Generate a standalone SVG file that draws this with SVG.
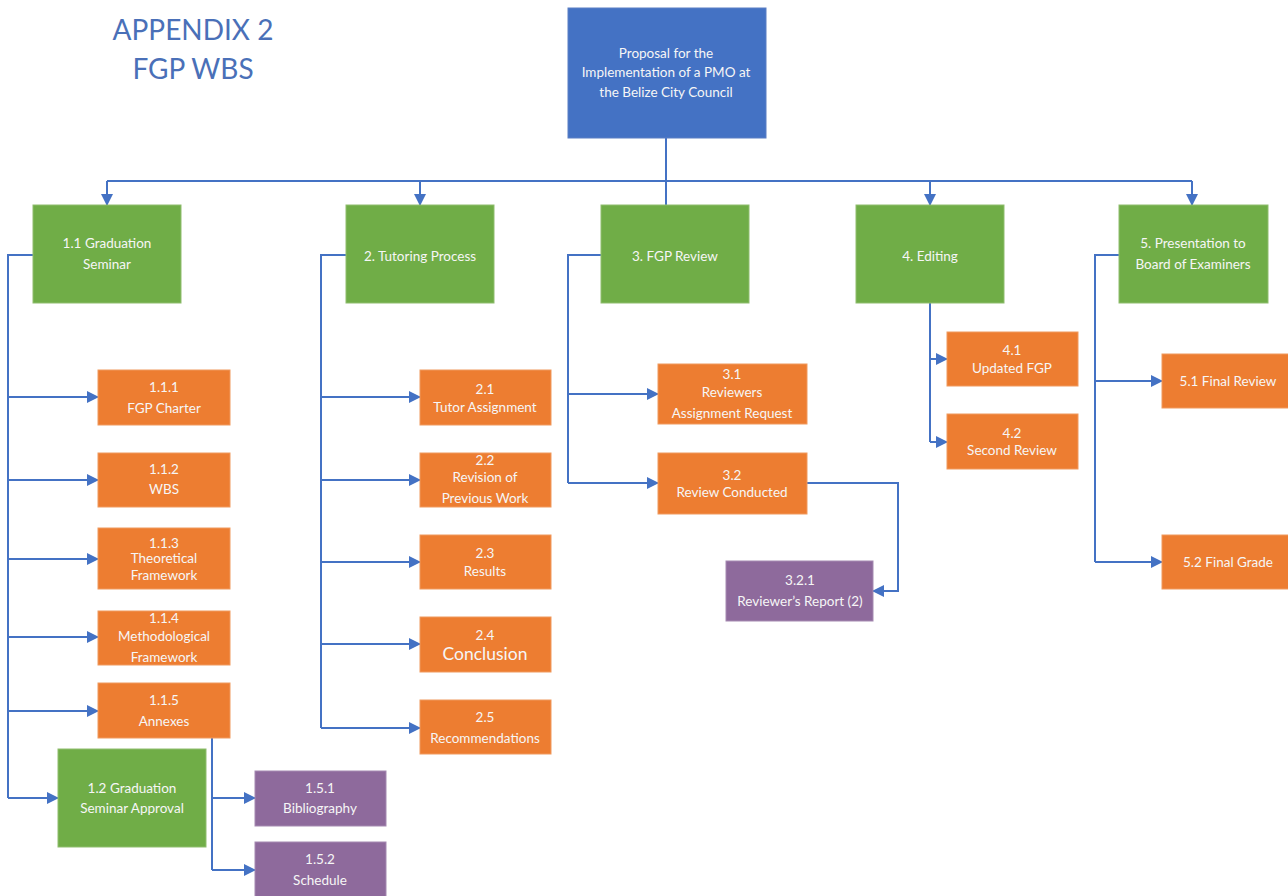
<svg xmlns="http://www.w3.org/2000/svg" width="1288" height="896" viewBox="0 0 1288 896">
  <style>
    text { font-family: Lato, "Open Sans", "Liberation Sans", sans-serif; fill: #f6f6f6; text-anchor: middle; dominant-baseline: central; font-size: 13.5px; }
    .title { fill: #4a70b8; font-size: 28px; dominant-baseline: alphabetic; }
    .root { fill: #4472c4; stroke: #5b7fc4; stroke-width: 1; }
    .green { fill: #70ad47; stroke: #8fbd6f; stroke-width: 1; }
    .orange { fill: #ed7d31; stroke: #f09a5e; stroke-width: 1; }
    .purple { fill: #8e6a9c; stroke: #a58ab1; stroke-width: 1; }
    .lg { font-size: 17.5px; }
    #connectors path { fill: none; stroke: #4472c4; stroke-width: 2; }
  </style>
  <defs>
    <marker id="arrow" markerUnits="userSpaceOnUse" markerWidth="12" markerHeight="12" refX="11" refY="6" orient="auto">
      <path d="M0,0 L12,6 L0,12 Z" fill="#4472c4"/>
    </marker>
  </defs>
  <rect width="1288" height="896" fill="#ffffff"/>

  <g id="title">
    <text class="title" x="193" y="40">APPENDIX 2</text>
    <text class="title" x="193" y="79">FGP WBS</text>
  </g>

  <g id="connectors">
    <!-- root to level 1 -->
    <path d="M666,138 V205"/>
    <path d="M107,181 H1192"/>
    <path d="M107,181 V205" marker-end="url(#arrow)"/>
    <path d="M420,181 V205" marker-end="url(#arrow)"/>
    <path d="M930,181 V205" marker-end="url(#arrow)"/>
    <path d="M1192,181 V205" marker-end="url(#arrow)"/>
    <!-- 1.1 branch -->
    <path d="M33,255 H8 V798"/>
    <path d="M8,397 H98" marker-end="url(#arrow)"/>
    <path d="M8,480 H98" marker-end="url(#arrow)"/>
    <path d="M8,559 H98" marker-end="url(#arrow)"/>
    <path d="M8,637 H98" marker-end="url(#arrow)"/>
    <path d="M8,711 H98" marker-end="url(#arrow)"/>
    <path d="M8,798 H58" marker-end="url(#arrow)"/>
    <!-- 1.1.5 branch -->
    <path d="M212,738 V870"/>
    <path d="M212,798 H255" marker-end="url(#arrow)"/>
    <path d="M212,870 H255" marker-end="url(#arrow)"/>
    <!-- 2 branch -->
    <path d="M346,255 H321 V728"/>
    <path d="M321,397 H420" marker-end="url(#arrow)"/>
    <path d="M321,480 H420" marker-end="url(#arrow)"/>
    <path d="M321,562 H420" marker-end="url(#arrow)"/>
    <path d="M321,644 H420" marker-end="url(#arrow)"/>
    <path d="M321,728 H420" marker-end="url(#arrow)"/>
    <!-- 3 branch -->
    <path d="M601,255 H568 V483"/>
    <path d="M568,394 H658" marker-end="url(#arrow)"/>
    <path d="M568,483 H658" marker-end="url(#arrow)"/>
    <path d="M807,483 H898 V591 H873" marker-end="url(#arrow)"/>
    <!-- 4 branch -->
    <path d="M930,303 V442"/>
    <path d="M930,359 H947" marker-end="url(#arrow)"/>
    <path d="M930,442 H947" marker-end="url(#arrow)"/>
    <!-- 5 branch -->
    <path d="M1119,255 H1095 V562"/>
    <path d="M1095,381 H1162" marker-end="url(#arrow)"/>
    <path d="M1095,562 H1162" marker-end="url(#arrow)"/>
  </g>

  <g id="n0">
    <rect class="root" x="568" y="8" width="198" height="130"/>
    <text x="666" y="53">Proposal for the</text>
    <text x="666" y="72">Implementation of a PMO at</text>
    <text x="666" y="92">the Belize City Council</text>
  </g>

  <g id="n1_1">
    <rect class="green" x="33" y="205" width="148" height="98"/>
    <text x="107" y="243">1.1 Graduation</text>
    <text x="107" y="264">Seminar</text>
  </g>
  <g id="n2">
    <rect class="green" x="346" y="205" width="148" height="98"/>
    <text x="420" y="256">2. Tutoring Process</text>
  </g>
  <g id="n3">
    <rect class="green" x="601" y="205" width="148" height="98"/>
    <text x="675" y="256">3. FGP Review</text>
  </g>
  <g id="n4">
    <rect class="green" x="856" y="205" width="148" height="98"/>
    <text x="930" y="256">4. Editing</text>
  </g>
  <g id="n5">
    <rect class="green" x="1119" y="205" width="149" height="98"/>
    <text x="1193" y="243">5. Presentation to</text>
    <text x="1193" y="264">Board of Examiners</text>
  </g>

  <g id="n1_1_1">
    <rect class="orange" x="98" y="370" width="132" height="55"/>
    <text x="164" y="387">1.1.1</text>
    <text x="164" y="408">FGP Charter</text>
  </g>
  <g id="n1_1_2">
    <rect class="orange" x="98" y="453" width="132" height="54"/>
    <text x="164" y="469">1.1.2</text>
    <text x="164" y="489">WBS</text>
  </g>
  <g id="n1_1_3">
    <rect class="orange" x="98" y="528" width="132" height="61"/>
    <text x="164" y="543">1.1.3</text>
    <text x="164" y="558">Theoretical</text>
    <text x="164" y="575">Framework</text>
  </g>
  <g id="n1_1_4">
    <rect class="orange" x="98" y="611" width="132" height="54"/>
    <text x="164" y="618">1.1.4</text>
    <text x="164" y="636">Methodological</text>
    <text x="164" y="657">Framework</text>
  </g>
  <g id="n1_1_5">
    <rect class="orange" x="98" y="683" width="132" height="55"/>
    <text x="164" y="700">1.1.5</text>
    <text x="164" y="721">Annexes</text>
  </g>
  <g id="n1_2">
    <rect class="green" x="58" y="749" width="148" height="98"/>
    <text x="132" y="788">1.2 Graduation</text>
    <text x="132" y="808">Seminar Approval</text>
  </g>
  <g id="n1_5_1">
    <rect class="purple" x="255" y="771" width="131" height="55"/>
    <text x="320" y="788">1.5.1</text>
    <text x="320" y="808">Bibliography</text>
  </g>
  <g id="n1_5_2">
    <rect class="purple" x="255" y="842" width="131" height="56"/>
    <text x="320" y="859">1.5.2</text>
    <text x="320" y="880">Schedule</text>
  </g>

  <g id="n2_1">
    <rect class="orange" x="420" y="370" width="131" height="55"/>
    <text x="485" y="389">2.1</text>
    <text x="485" y="407">Tutor Assignment</text>
  </g>
  <g id="n2_2">
    <rect class="orange" x="420" y="453" width="131" height="54"/>
    <text x="485" y="460">2.2</text>
    <text x="485" y="477">Revision of</text>
    <text x="485" y="498">Previous Work</text>
  </g>
  <g id="n2_3">
    <rect class="orange" x="420" y="535" width="131" height="54"/>
    <text x="485" y="553">2.3</text>
    <text x="485" y="571">Results</text>
  </g>
  <g id="n2_4">
    <rect class="orange" x="420" y="617" width="131" height="55"/>
    <text x="485" y="635">2.4</text>
    <text class="lg" x="485" y="653">Conclusion</text>
  </g>
  <g id="n2_5">
    <rect class="orange" x="420" y="700" width="131" height="54"/>
    <text x="485" y="717">2.5</text>
    <text x="485" y="738">Recommendations</text>
  </g>

  <g id="n3_1">
    <rect class="orange" x="658" y="364" width="149" height="60"/>
    <text x="732" y="374">3.1</text>
    <text x="732" y="392">Reviewers</text>
    <text x="732" y="413">Assignment Request</text>
  </g>
  <g id="n3_2">
    <rect class="orange" x="658" y="453" width="149" height="61"/>
    <text x="732" y="475">3.2</text>
    <text x="732" y="492">Review Conducted</text>
  </g>
  <g id="n3_2_1">
    <rect class="purple" x="726" y="561" width="147" height="60"/>
    <text x="800" y="580">3.2.1</text>
    <text x="800" y="601">Reviewer’s Report (2)</text>
  </g>

  <g id="n4_1">
    <rect class="orange" x="947" y="332" width="131" height="54"/>
    <text x="1012" y="350">4.1</text>
    <text x="1012" y="368">Updated FGP</text>
  </g>
  <g id="n4_2">
    <rect class="orange" x="947" y="414" width="131" height="55"/>
    <text x="1012" y="433">4.2</text>
    <text x="1012" y="450">Second Review</text>
  </g>

  <g id="n5_1">
    <rect class="orange" x="1162" y="354" width="132" height="54"/>
    <text x="1228" y="381">5.1 Final Review</text>
  </g>
  <g id="n5_2">
    <rect class="orange" x="1162" y="535" width="132" height="54"/>
    <text x="1228" y="562">5.2 Final Grade</text>
  </g>
</svg>
